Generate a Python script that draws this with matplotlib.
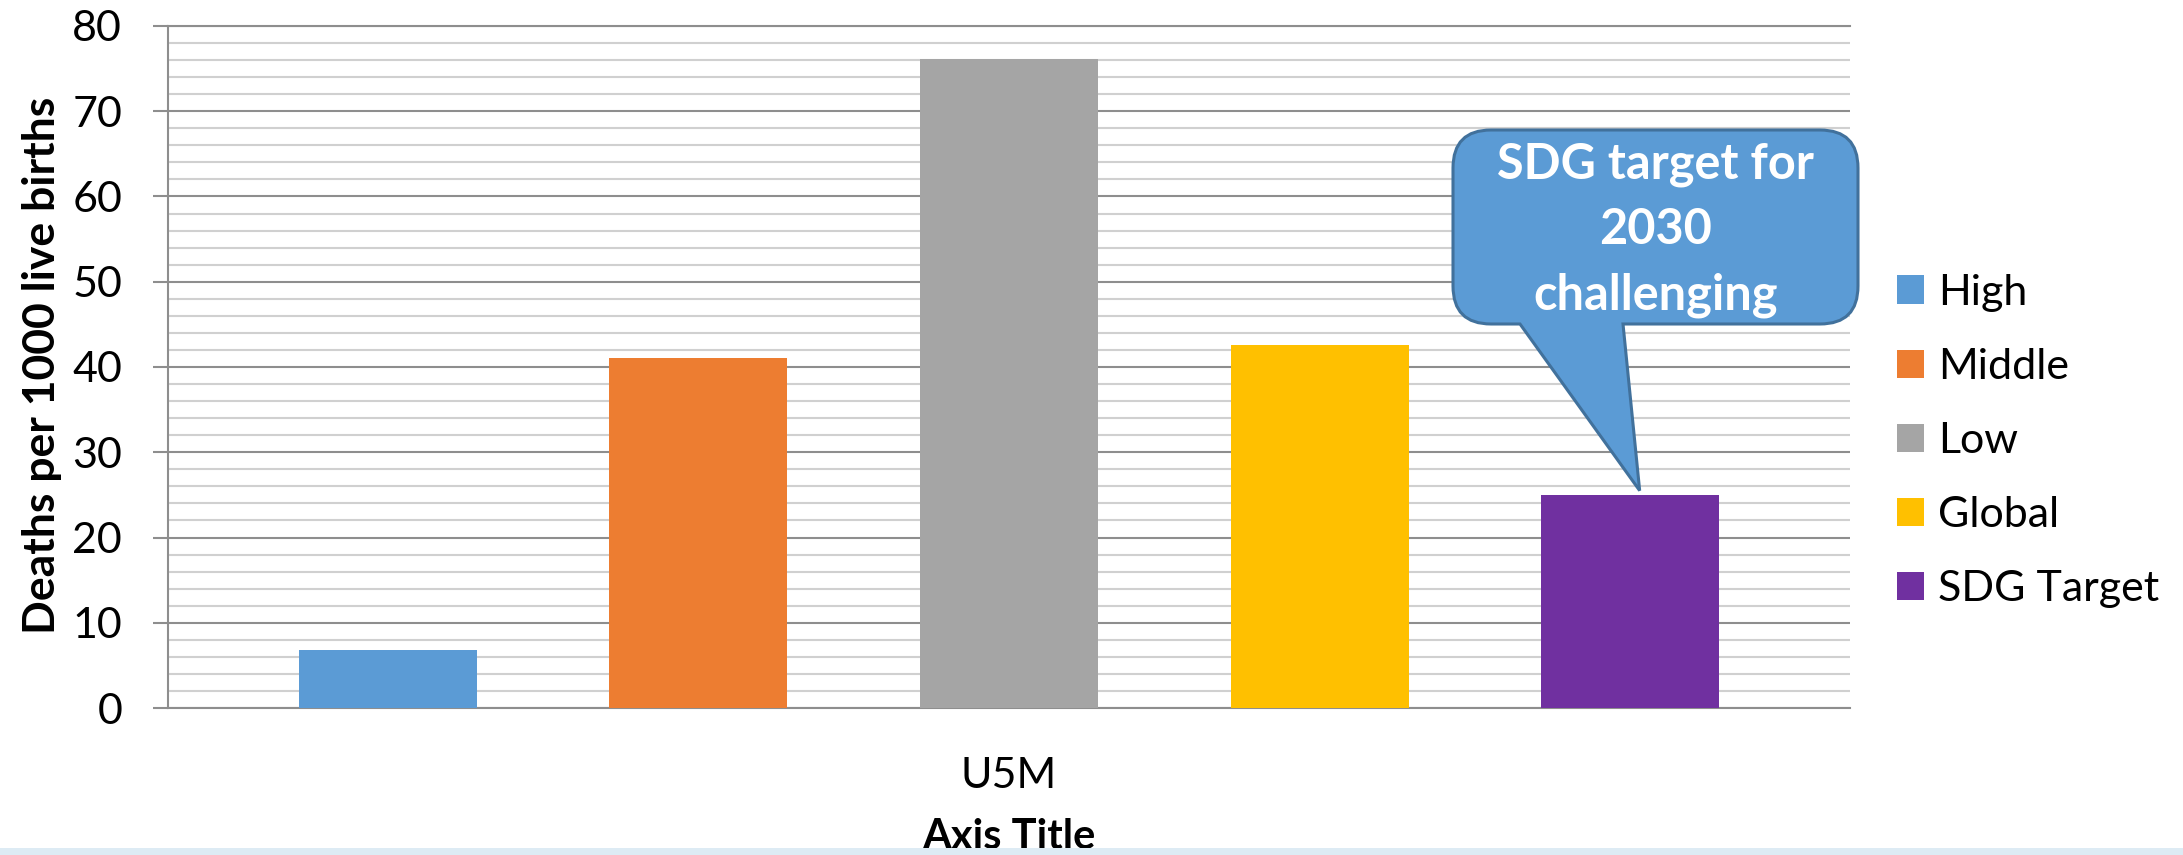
import numpy as np
import matplotlib
matplotlib.use('Agg')
import matplotlib.pyplot as plt
from matplotlib.path import Path
from matplotlib.patches import PathPatch, Rectangle
from matplotlib.ticker import MultipleLocator

plt.rcParams['font.family'] = ['Lato', 'DejaVu Sans']

# data
category = 'U5M'
series = ['High', 'Middle', 'Low', 'Global', 'SDG Target']
values = [6.8, 41.0, 76.1, 42.6, 25.0]
colors = ['#5B9BD5', '#ED7D31', '#A5A5A5', '#FFC000', '#7030A0']
callout_text = 'SDG target for\n2030\nchallenging'

W, H = 2183, 855
fig = plt.figure(figsize=(W / 100, H / 100), dpi=100)
fig.patch.set_facecolor('white')

# plot area in pixels: left 168, right 1850, top 26, bottom 708
ax = fig.add_axes([168 / W, (H - 708) / H, (1850 - 168) / W, (708 - 26) / H])

n = len(series)
pos = np.arange(n) - (n - 1) / 2
width = 0.573
for p, v, c, s in zip(pos, values, colors, series):
    ax.bar(p, v, width=width, color=c, label=s, zorder=3)

ax.set_xlim(-2.707, 2.707)
ax.set_ylim(0, 80)
ax.yaxis.set_major_locator(MultipleLocator(10))
ax.yaxis.set_minor_locator(MultipleLocator(2))
ax.grid(axis='y', which='minor', color='#D0D0D0', lw=1.5, zorder=0)
ax.grid(axis='y', which='major', color='#8E8E8E', lw=1.5, zorder=1)
ax.set_axisbelow(True)

ax.spines['right'].set_visible(False)
for side in ['left', 'top', 'bottom']:
    ax.spines[side].set_color('#8E8E8E')
    ax.spines[side].set_linewidth(1.5)

ax.tick_params(axis='y', which='major', length=11, width=1.5, color='#8E8E8E',
               labelsize=31, pad=22)
ax.tick_params(axis='y', which='minor', length=0)
ax.set_xticks([0])
ax.set_xticklabels([category])
ax.tick_params(axis='x', length=0, labelsize=31, pad=35)

fig.text(42 / W, (H - 365) / H, 'Deaths per 1000 live births', rotation=90,
         ha='center', va='center', fontsize=32, fontweight='bold')
fig.text(1009 / W, (H - 818) / H, 'Axis Title', ha='center', va='top',
         fontsize=30, fontweight='bold')

# legend
ax.legend(loc='center left', bbox_to_anchor=(1897 / W, (H - 441) / H),
          bbox_transform=fig.transFigure, frameon=False, fontsize=31,
          handlelength=0.63, handleheight=0.63, handletextpad=0.32,
          labelspacing=0.84, borderpad=0, borderaxespad=0)

# overlay in pixel coords (y down) for the callout and the bottom strip
ov = fig.add_axes([0, 0, 1, 1], zorder=5)
ov.set_xlim(0, W)
ov.set_ylim(H, 0)
ov.axis('off')
ov.patch.set_alpha(0)

tip = ax.transData.transform((pos[-1] + 0.03, values[-1] + 0.5))
tx, ty = ov.transData.inverted().transform(tip)

l, r, t, b, rad = 1453, 1858, 130, 324, 38
verts = [(l + rad, t), (r - rad, t), (r, t), (r, t + rad), (r, b - rad),
         (r, b), (r - rad, b), (1623, b), (tx, ty), (1520, b), (l + rad, b),
         (l, b), (l, b - rad), (l, t + rad), (l, t), (l + rad, t), (l + rad, t)]
codes = [Path.MOVETO, Path.LINETO, Path.CURVE3, Path.CURVE3, Path.LINETO,
         Path.CURVE3, Path.CURVE3, Path.LINETO, Path.LINETO, Path.LINETO,
         Path.LINETO, Path.CURVE3, Path.CURVE3, Path.LINETO, Path.CURVE3,
         Path.CURVE3, Path.CLOSEPOLY]
ov.add_patch(PathPatch(Path(verts, codes), facecolor='#5B9BD5',
                       edgecolor='#41719C', lw=2.2))
ov.text((l + r) / 2, (t + b) / 2 + 3, callout_text, ha='center', va='center',
        color='white', fontsize=35, fontweight='bold', linespacing=1.55)

ov.add_patch(Rectangle((0, 848), W, 7, facecolor='#DDEBF4', edgecolor='none'))

fig.savefig('out.png', dpi=100)
